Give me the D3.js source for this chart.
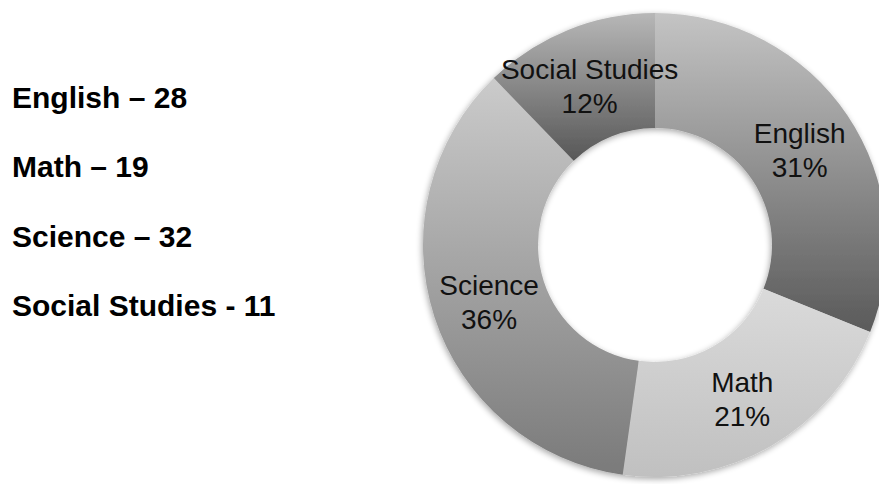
<!DOCTYPE html>
<html>
<head>
<meta charset="utf-8">
<script src="https://cdn.jsdelivr.net/npm/d3@7"></script>
<style>
  html, body { margin: 0; padding: 0; background: #fff; }
  svg { display: block; }
</style>
</head>
<body>
<svg id="chart" width="879" height="484"></svg>
<script>
// Subjects and counts
const subjects = ["English", "Math", "Science", "Social Studies"];
const counts = [28, 19, 32, 11];
// Legend lines on the left (as written)
const legendLines = ["English \u2013 28", "Math \u2013 19", "Science \u2013 32", "Social Studies - 11"];
// Vertical gradient stops per slice (top colour, bottom colour)
const topShades = ["#c4c4c4", "#dadada", "#cbcbcb", "#b7b7b7"];
const bottomShades = ["#5a5a5a", "#c0c0c0", "#7a7a7a", "#575757"];

const svg = d3.select("#chart");
const cx = 655, cy = 245, outerR = 232, innerR = 117;

const defs = svg.append("defs");

// soft shadow around the ring
const f = defs.append("filter").attr("id", "ringShadow")
  .attr("x", "-10%").attr("y", "-10%").attr("width", "120%").attr("height", "120%");
f.append("feGaussianBlur").attr("in", "SourceAlpha").attr("stdDeviation", 3).attr("result", "b");
f.append("feOffset").attr("in", "b").attr("dx", -1).attr("dy", 2).attr("result", "o");
f.append("feComponentTransfer").attr("in", "o").attr("result", "s")
  .append("feFuncA").attr("type", "linear").attr("slope", 0.35);
const fm = f.append("feMerge");
fm.append("feMergeNode").attr("in", "s");
fm.append("feMergeNode").attr("in", "SourceGraphic");

subjects.forEach((s, i) => {
  const g = defs.append("linearGradient").attr("id", "grad" + i)
    .attr("x1", 0).attr("y1", 0).attr("x2", 0).attr("y2", 1);
  g.append("stop").attr("offset", "0%").attr("stop-color", topShades[i]);
  g.append("stop").attr("offset", "100%").attr("stop-color", bottomShades[i]);
});

const data = subjects.map((s, i) => ({ name: s, value: counts[i], i }));
const total = d3.sum(counts);

const pie = d3.pie().value(d => d.value).sort(null);
const arcs = pie(data);
const arc = d3.arc().innerRadius(innerR).outerRadius(outerR);
const mid = (innerR + outerR) / 2;
const labelArc = d3.arc().innerRadius(mid).outerRadius(mid);

const ring = svg.append("g")
  .attr("transform", `translate(${cx},${cy})`)
  .attr("filter", "url(#ringShadow)");

ring.selectAll("path.slice")
  .data(arcs)
  .join("path")
  .attr("class", "slice")
  .attr("d", arc)
  .attr("fill", d => `url(#grad${d.data.i})`);

const labels = svg.append("g").attr("transform", `translate(${cx},${cy})`);
arcs.forEach(d => {
  const [x, y] = labelArc.centroid(d);
  const pct = Math.round(d.data.value / total * 100) + "%";
  const t = labels.append("text")
    .attr("text-anchor", "middle")
    .attr("font-family", "Liberation Sans, Arial, sans-serif")
    .attr("font-size", 28)
    .attr("fill", "#111");
  t.append("tspan").attr("x", x).attr("y", y - 4).text(d.data.name);
  t.append("tspan").attr("x", x).attr("y", y + 30).text(pct);
});

// Left-hand list
const listY = d3.scalePoint().domain(d3.range(legendLines.length)).range([108, 316]);
svg.append("g").selectAll("text")
  .data(legendLines)
  .join("text")
  .attr("x", 12)
  .attr("y", (d, i) => listY(i))
  .attr("font-family", "Liberation Sans, Arial, sans-serif")
  .attr("font-weight", "bold")
  .attr("font-size", 30)
  .attr("fill", "#000")
  .text(d => d);
</script>
</body>
</html>
